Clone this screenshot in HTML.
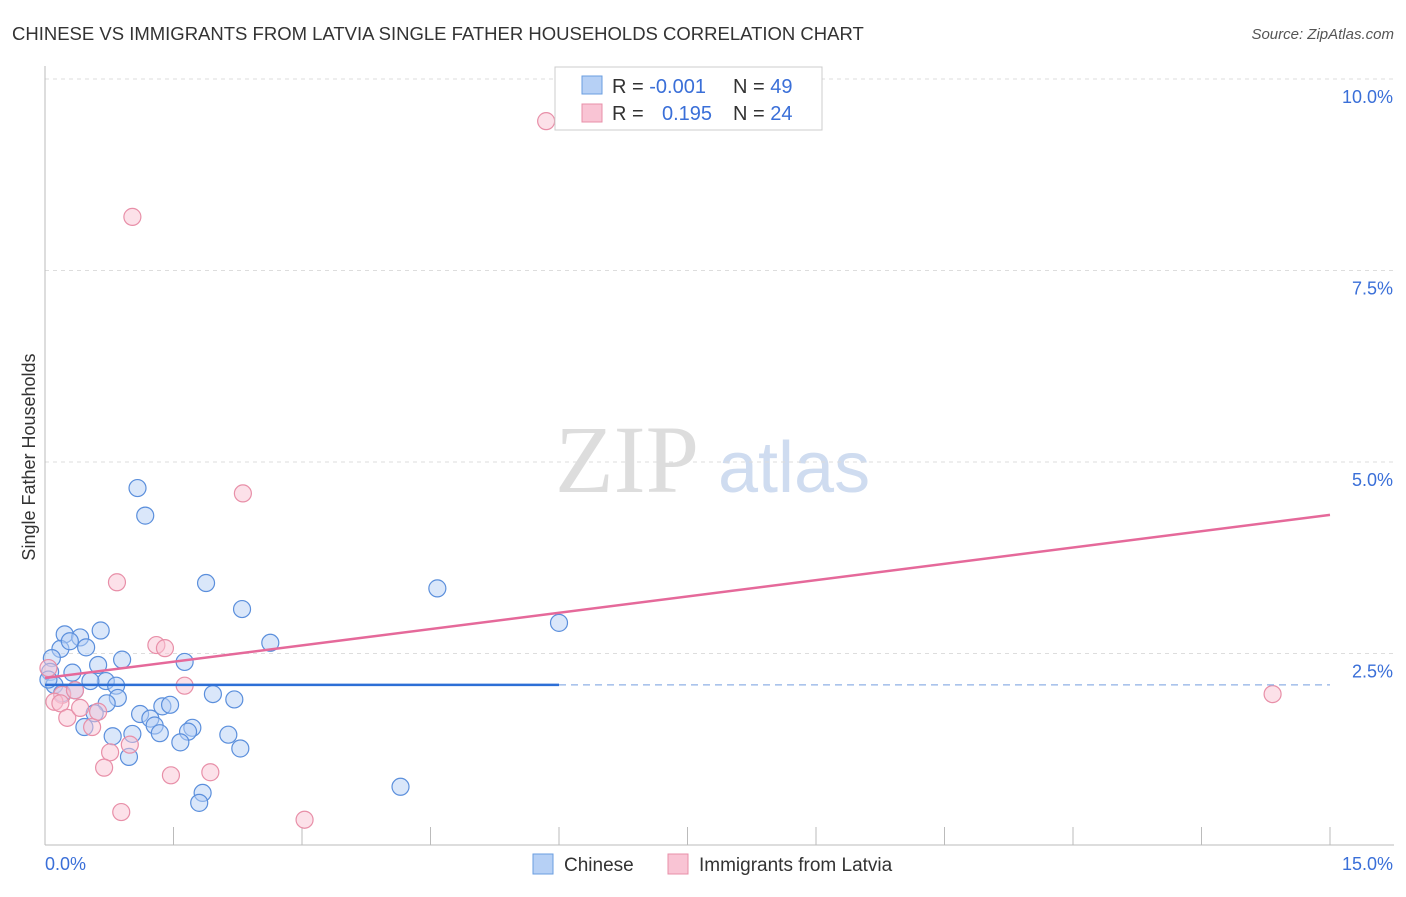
<!DOCTYPE html>
<html><head><meta charset="utf-8"><style>
body{margin:0;background:#fff;font-family:"Liberation Sans",sans-serif}
</style></head><body>
<svg id="chart" width="1406" height="892" xmlns="http://www.w3.org/2000/svg" font-family="Liberation Sans, sans-serif">
<text x="12" y="40" font-size="18.5" fill="#333">CHINESE VS IMMIGRANTS FROM LATVIA SINGLE FATHER HOUSEHOLDS CORRELATION CHART</text>
<text x="1394" y="39" font-size="15" fill="#555" text-anchor="end" font-style="italic">Source: ZipAtlas.com</text>
<text x="35" y="457" font-size="18" fill="#333" text-anchor="middle" transform="rotate(-90 35 457)">Single Father Households</text>
<text x="555" y="492" font-size="96" fill="#ddd" font-family="Liberation Serif, serif">ZIP</text>
<text x="718" y="492" font-size="72" fill="#cfdcf0">atlas</text>
<g id="grid"></g><g id="pts"></g><g id="lines"></g>
<g>
<rect x="555" y="67" width="267" height="63" fill="#fff" stroke="#ccc"/>
<rect x="582" y="76" width="20" height="18" fill="#b6d0f5" stroke="#6a9ee0"/>
<rect x="582" y="104" width="20" height="18" fill="#f9c4d4" stroke="#e88fa8"/>
<text x="612" y="93" font-size="20" fill="#333">R = <tspan fill="#3a6fd8">-0.001</tspan></text>
<text x="733" y="93" font-size="20" fill="#333">N = <tspan fill="#3a6fd8">49</tspan></text>
<text x="612" y="120" font-size="20" fill="#333">R = <tspan fill="#3a6fd8" x="662">0.195</tspan></text>
<text x="733" y="120" font-size="20" fill="#333">N = <tspan fill="#3a6fd8">24</tspan></text>
</g>
<g>
<rect x="533" y="854" width="20" height="20" fill="#b6d0f5" stroke="#6a9ee0"/>
<text x="564" y="871" font-size="19" fill="#333">Chinese</text>
<rect x="668" y="854" width="20" height="20" fill="#f9c4d4" stroke="#e88fa8"/>
<text x="699" y="871" font-size="19" fill="#333">Immigrants from Latvia</text>
</g>
</svg>
<script>
const yTicks=[2.5,5.0,7.5,10.0];
const xTickLabels=["0.0%","15.0%"];
const chineseX=[1.08,1.17,1.88,2.3,2.63,4.58,6.0,4.15,0.23,0.41,0.65,0.18,0.29,0.48,0.08,0.9,0.62,1.63,0.06,0.32,0.71,0.83,0.11,0.53,0.2,0.85,0.72,0.35,1.96,2.21,1.11,1.23,1.37,1.46,0.58,1.28,1.34,1.72,1.67,0.46,0.79,1.02,1.58,2.14,2.28,0.98,1.84,1.80,0.04];
const chineseY=[4.66,4.30,3.42,3.08,2.64,3.35,2.90,0.76,2.75,2.71,2.80,2.56,2.66,2.58,2.44,2.42,2.35,2.39,2.26,2.25,2.14,2.08,2.09,2.14,1.98,1.92,1.85,2.02,1.97,1.90,1.71,1.65,1.81,1.83,1.72,1.56,1.46,1.53,1.48,1.54,1.42,1.45,1.34,1.44,1.26,1.15,0.68,0.55,2.16];
const latviaX=[5.85,1.02,2.31,0.84,1.30,1.40,1.63,0.04,0.20,0.35,0.11,0.18,0.26,0.41,0.55,0.62,0.76,0.99,0.69,1.47,1.93,0.89,3.03,14.33];
const latviaY=[9.45,8.20,4.59,3.43,2.61,2.57,2.08,2.31,1.96,2.02,1.87,1.85,1.66,1.79,1.54,1.74,1.21,1.31,1.01,0.91,0.95,0.43,0.33,1.97];
const chineseFit=[2.09,2.09];
const latviaFit=[2.18,4.31];
const NS="http://www.w3.org/2000/svg";
const X=v=>45+v*(1285/15), Y=v=>845-v*76.6;
function mk(t,a,p){const e=document.createElementNS(NS,t);for(const k in a)e.setAttribute(k,a[k]);document.getElementById(p).appendChild(e);return e;}
yTicks.forEach(t=>{
 const l=mk('line',{x1:45,x2:1394,y1:Y(t),y2:Y(t),stroke:'#ddd','stroke-dasharray':'4,4'},'grid');
 
 
 const tx=mk('text',{x:1393,y:Y(t)+24,'font-size':18,fill:'#3a6fd8','text-anchor':'end'},'grid');
 tx.textContent=t.toFixed(1)+'%';
 
 
});
const ax=mk('line',{x1:45,x2:45,y1:66,y2:845,stroke:'#bbb'},'grid');


const bx=mk('line',{x1:45,x2:1394,y1:845,y2:845,stroke:'#bbb'},'grid');


for(let i=0;i<=10;i++){const t=mk('line',{x1:X(i*1.5),x2:X(i*1.5),y1:827,y2:845,stroke:'#bbb'},'grid');
 
 }
[[0,45,'start'],[15,1393,'end']].forEach((d,i)=>{const t=mk('text',{x:d[1],y:870,'font-size':18,fill:'#3a6fd8','text-anchor':d[2]},'grid');t.textContent=xTickLabels[i];
 
 });
function pts(xs,ys,f,s,n){xs.forEach((x,i)=>{const c=mk('circle',{cx:X(x),cy:Y(ys[i]),r:8.5,fill:f,'fill-opacity':0.5,stroke:s,'stroke-width':1.2},'pts');
 
 });}
pts(chineseX,chineseY,'#b6d0f5','#5b8fdc','chinese-point');
pts(latviaX,latviaY,'#f9c4d4','#e88fa8','latvia-point');
const l1=mk('line',{x1:X(0),x2:X(6),y1:Y(chineseFit[0]),y2:Y(chineseFit[0]+(chineseFit[1]-chineseFit[0])*0.4),stroke:'#2d6fd6','stroke-width':2.5},'lines');


const l2=mk('line',{x1:X(6),x2:X(15),y1:Y(chineseFit[0]+(chineseFit[1]-chineseFit[0])*0.4),y2:Y(chineseFit[1]),stroke:'#8fb0e6','stroke-width':1.2,'stroke-dasharray':'7,5'},'lines');


const l3=mk('line',{x1:X(0),x2:X(15),y1:Y(latviaFit[0]),y2:Y(latviaFit[1]),stroke:'#e5699a','stroke-width':2.5},'lines');


</script>
</body></html>
